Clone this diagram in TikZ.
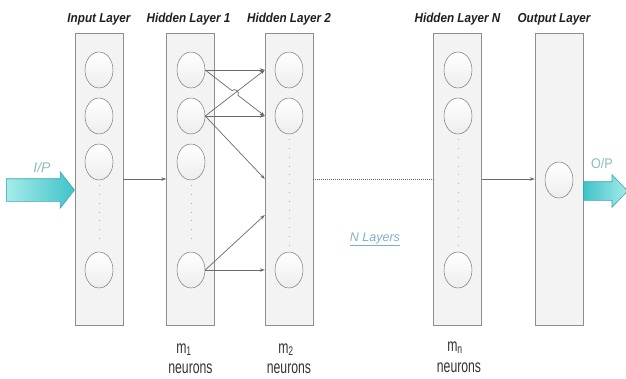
\documentclass[tikz,border=0pt]{standalone}
\usepackage{fontspec}
\setmainfont{Liberation Sans}
\newfontfamily\titlefont[FakeStretch=0.9]{Liberation Sans}
\newfontfamily\countfont[FakeStretch=0.68]{Liberation Sans}
\usetikzlibrary{shapes.geometric,shapes.arrows,arrows.meta,calc}

\definecolor{boxfill}{HTML}{F3F3F3}
\definecolor{boxline}{HTML}{8E8E8E}
\definecolor{linkgray}{HTML}{6A6A6A}
\definecolor{iotext}{HTML}{8CBCC1}
\definecolor{nltext}{HTML}{7FAECB}
\definecolor{arrowlight}{HTML}{A6EBEA}
\definecolor{arrowdark}{HTML}{3FC3C8}
\definecolor{arrowline}{HTML}{3AA6AC}

\begin{document}
\begin{tikzpicture}[x=1pt,y=-1pt,
    layerbox/.style={draw=boxline, fill=boxfill, minimum width=48pt,
      minimum height=292pt, inner sep=0pt},
    neuron/.style={ellipse, draw=gray!75!black, top color=white,
      bottom color=gray!14, minimum width=28pt, minimum height=36pt, inner sep=0pt},
    link/.style={draw=linkgray, line width=0.7pt, -{Stealth[length=5pt,width=3.5pt]}},
    vdots/.style={draw=gray!65, line width=0.8pt, dash pattern=on 0.8pt off 8pt,
      shorten <=5pt, shorten >=6pt},
    title/.style={anchor=base, text=black!88, font=\titlefont\fontsize{13}{15}\selectfont\bfseries\itshape},
    count/.style={anchor=base, text=black!80, font=\countfont\fontsize{18}{20}\selectfont},
    bigarrow/.style={single arrow, draw=arrowline, line width=0.6pt, inner xsep=0pt,
      single arrow head extend=7pt}]
  \useasboundingbox (0,0) rectangle (626,378);

  % layers
  \node[layerbox] (in) at (99,179) {};
  \node[layerbox] (hA) at (190.5,179) {};
  \node[layerbox] (hB) at (289,179) {};
  \node[layerbox] (hN) at (457.5,179) {};
  \node[layerbox] (out) at (559,179) {};

  % titles
  \node[title] (tin) at ($(in.north)+(0,-10)$) {Input Layer};
  \node[title] (thA) at ($(hA.north)+(-2,-10)$) {Hidden Layer 1};
  \node[title] (thB) at ($(hB.north)+(0,-10)$) {Hidden Layer 2};
  \node[title] (thN) at ($(hN.north)+(0,-10)$) {Hidden Layer N};
  \node[title] (tout) at ($(out.north)+(-5,-10)$) {Output Layer};

  % neurons
  \foreach \y [count=\i] in {70,116,162,270} {
    \node[neuron] (in\i) at (99,\y) {};
    \node[neuron] (hA\i) at (191,\y) {};
  }
  \foreach \y [count=\i] in {70,116,270} {
    \node[neuron] (hB\i) at (289,\y) {};
    \node[neuron] (hN\i) at (458,\y) {};
  }
  \node[neuron] (out1) at (559,180) {};

  \draw[vdots] (in3.south) -- (in4.north);
  \draw[vdots] (hA3.south) -- (hA4.north);
  \draw[vdots] (hB2.south) -- (hB3.north);
  \draw[vdots] (hN2.south) -- (hN3.north);

  % connections
  \coordinate (t1) at (hB.west |- hB1);
  \coordinate (t2) at (hB.west |- hB2);
  \coordinate (t3) at (hB.west);
  \coordinate (t4) at ($(hB.west)+(0,36)$);
  \coordinate (t5) at (hB.west |- hB3);
  \draw[link] (in) -- (hA);
  \draw[link] (hA2.east) -- (t1);
  \draw[link] (hA1.east) -- (t1);
  \draw[link] (hA1.east) -- ($(hA1.east)!0.45!(t2)$)
     to[out=90, in=90, relative, looseness=1.4] ($(hA1.east)!0.55!(t2)$) -- (t2);
  \draw[link] (hA2.east) -- (t2);
  \draw[link] (hA2.east) -- (t3);
  \draw[link] (hA4.east) -- (t4);
  \draw[link] (hA4.east) -- (t5);
  \draw[draw=gray!75!black, line width=0.7pt, dash pattern=on 1pt off 1pt] (hB) -- (hN);
  \draw[link] (hN) -- (out);

  % input and output arrows
  \node[bigarrow, left color=arrowlight, right color=arrowdark, minimum height=68pt,
    inner ysep=11pt, single arrow tip angle=104, anchor=tip] (ip) at ($(in.west)+(0,11)$) {};
  \node[text=iotext, font=\fontsize{14}{16}\selectfont\itshape] (iplabel) at (42,167) {I/P};
  \node[bigarrow, left color=arrowdark, right color=arrowlight, minimum height=44pt,
    inner ysep=9pt, single arrow tip angle=93, anchor=tail] (op) at ($(out.east)+(0,12)$) {};
  \node[text=iotext, font=\titlefont\fontsize{14}{16}\selectfont] (oplabel) at (602,163) {O/P};

  \node[anchor=base, text=nltext, font=\fontsize{12.5}{14}\selectfont\itshape] (nlayers)
    at (375,241) {\underline{N Layers}};

  % neuron counts
  \node[count] (mA) at (184,353) {m\textsubscript{1}};
  \node[count] (nA) at (190.5,373) {neurons};
  \node[count] (mB) at (286,353) {m\textsubscript{2}};
  \node[count] (nB) at (289,373) {neurons};
  \node[count] (mN) at (455,351) {m\textsubscript{n}};
  \node[count] (nN) at (459,372) {neurons};
\end{tikzpicture}
\end{document}
